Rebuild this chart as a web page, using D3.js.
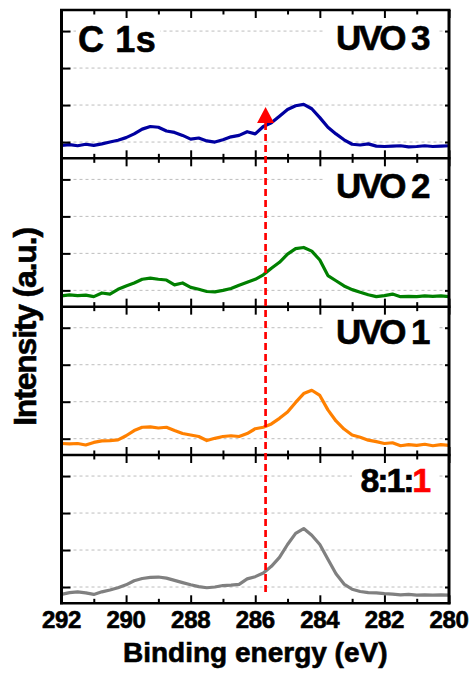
<!DOCTYPE html>
<html>
<head>
<meta charset="utf-8">
<script src="https://cdn.jsdelivr.net/npm/d3@7/dist/d3.min.js"></script>
<style>
    body { margin: 0; background: #fff; }
    svg { display: block; font-family: "Liberation Sans", Arial, sans-serif; font-weight: bold; }
    text { stroke-width: 0.6; paint-order: stroke; }
</style>
</head>
<body>
<div id="chart"></div>
<script>
// binding energy grid (eV), shared by all four spectra
const energy = [
    292, 291.75, 291.5, 291.25, 291, 290.75, 290.5, 290.25, 290, 289.75,
    289.5, 289.25, 289, 288.75, 288.5, 288.25, 288, 287.75, 287.5, 287.25,
    287, 286.75, 286.5, 286.25, 286, 285.75, 285.5, 285.25, 285, 284.75,
    284.5, 284.25, 284, 283.75, 283.5, 283.25, 283, 282.75, 282.5, 282.25,
    282, 281.75, 281.5, 281.25, 281, 280.75, 280.5, 280.25, 280
];

// intensities in grid units (0 = lowest dashed line of each panel)
const uvo3 = [
    -0.09, -0.07, -0.10, -0.06, -0.09, -0.05, 0.00, 0.05, 0.12, 0.22,
    0.35, 0.42, 0.40, 0.30, 0.26, 0.18, 0.08, 0.11, 0.03, 0.00,
    0.06, 0.14, 0.18, 0.28, 0.22, 0.42, 0.52, 0.70, 0.88, 0.98,
    1.02, 0.90, 0.66, 0.40, 0.22, 0.06, -0.06, -0.08, -0.05, -0.11,
    -0.12, -0.11, -0.10, -0.13, -0.12, -0.10, -0.12, -0.11, -0.10
];
const uvo2 = [
    -0.15, -0.12, -0.14, -0.13, -0.17, -0.07, -0.10, 0.03, 0.12, 0.20,
    0.30, 0.33, 0.30, 0.28, 0.15, 0.20, 0.08, 0.03, -0.03, -0.04,
    0.00, 0.05, 0.14, 0.22, 0.30, 0.42, 0.60, 0.76, 0.98, 1.13,
    1.16, 1.06, 0.82, 0.40, 0.26, 0.12, 0.02, -0.05, -0.12, -0.17,
    -0.14, -0.10, -0.17, -0.16, -0.17, -0.15, -0.16, -0.15, -0.17
];
const uvo1 = [
    -0.13, -0.14, -0.13, -0.17, -0.10, -0.06, -0.05, -0.03, 0.08, 0.22,
    0.31, 0.32, 0.29, 0.31, 0.22, 0.14, 0.10, 0.06, -0.05, 0.01,
    0.06, 0.08, 0.06, 0.14, 0.27, 0.31, 0.40, 0.55, 0.72, 0.98,
    1.22, 1.31, 1.17, 0.78, 0.48, 0.26, 0.10, 0.04, -0.04, -0.08,
    -0.13, -0.11, -0.19, -0.16, -0.18, -0.15, -0.19, -0.16, -0.18
];
const ref811 = [
    -0.20, -0.15, -0.13, -0.16, -0.20, -0.13, -0.08, -0.02, 0.06, 0.17,
    0.23, 0.26, 0.27, 0.24, 0.18, 0.12, 0.06, 0.01, -0.02, 0.00,
    0.04, 0.05, 0.07, 0.22, 0.28, 0.38, 0.56, 0.80, 1.15, 1.45,
    1.58, 1.40, 1.15, 0.75, 0.36, 0.08, -0.06, -0.12, -0.15, -0.16,
    -0.18, -0.19, -0.21, -0.20, -0.22, -0.21, -0.22, -0.21, -0.22
];

const panelSeries = [uvo3, uvo2, uvo1, ref811];
const panelColors = ['#0000a0', '#008000', '#ff8000', '#808080'];
const xTicks = [292, 290, 288, 286, 284, 282, 280];
const xMinorTicks = [291, 289, 287, 285, 283, 281];
const gridLevels = [0, 1, 2, 3];
const markerEnergy = 285.68;

const width = 472;
const height = 673;
const plotLeft = 61.5;
const plotRight = 449;
const plotTop = 10;
const plotBottom = 603.3;
const panelH = (plotBottom - plotTop) / 4;

const svg = d3.select('#chart').append('svg')
.attr('width', width)
.attr('height', height);

const x = d3.scaleLinear().domain([292, 280]).range([plotLeft, plotRight]);

panelSeries.forEach((series, i) => {
    const pTop = plotTop + i * panelH;
    const pBot = pTop + panelH;
    const y = d3.scaleLinear().domain([-0.44, 3.57]).range([pBot, pTop]);
    const g = svg.append('g');

    g.selectAll('line.grid')
    .data(gridLevels)
    .enter()
    .append('line')
    .attr('x1', plotLeft)
    .attr('x2', plotRight)
    .attr('y1', (d) => y(d))
    .attr('y2', (d) => y(d))
    .attr('stroke', '#bdbdbd')
    .attr('stroke-width', 1)
    .attr('stroke-dasharray', '3,3');

    // white box behind the panel labels hides the top grid line
    const boxX = i === 3 ? 352 : 324;
    g.append('rect')
    .attr('x', boxX)
    .attr('y', pTop + 6)
    .attr('width', 439 - boxX)
    .attr('height', 38)
    .attr('fill', '#fff');

    const line = d3.line()
    .x((d, k) => x(energy[k]))
    .y((d) => y(d));

    g.append('path')
    .datum(series)
    .attr('fill', 'none')
    .attr('stroke', panelColors[i])
    .attr('stroke-width', 3.2)
    .attr('stroke-linejoin', 'round')
    .attr('d', line);

    // inward ticks, bottom and top of each panel
    g.append('g').attr('transform', `translate(0,${pBot})`)
    .call(d3.axisBottom(x).tickValues(xTicks).tickSize(-8).tickFormat(''))
    .call((a) => a.select('.domain').remove());
    g.append('g').attr('transform', `translate(0,${pBot})`)
    .call(d3.axisBottom(x).tickValues(xMinorTicks).tickSize(-4.5).tickFormat(''))
    .call((a) => a.select('.domain').remove());
    g.append('g').attr('transform', `translate(0,${pTop})`)
    .call(d3.axisTop(x).tickValues(xTicks).tickSize(-8).tickFormat(''))
    .call((a) => a.select('.domain').remove());
    g.append('g').attr('transform', `translate(0,${pTop})`)
    .call(d3.axisTop(x).tickValues(xMinorTicks).tickSize(-4.5).tickFormat(''))
    .call((a) => a.select('.domain').remove());

    g.append('g').attr('transform', `translate(${plotLeft},0)`)
    .call(d3.axisLeft(y).tickValues(gridLevels).tickSize(-9).tickFormat(''))
    .call((a) => a.select('.domain').remove());
    g.append('g').attr('transform', `translate(${plotRight},0)`)
    .call(d3.axisRight(y).tickValues(gridLevels).tickSize(-4).tickFormat(''))
    .call((a) => a.select('.domain').remove());

    g.selectAll('.tick line').attr('stroke', '#000').attr('stroke-width', 2);

    g.append('line')
    .attr('x1', plotLeft - 1.5)
    .attr('x2', plotRight + 1.5)
    .attr('y1', pBot)
    .attr('y2', pBot)
    .attr('stroke', '#000')
    .attr('stroke-width', 2.5);
});

// frame
svg.append('line').attr('x1', plotLeft - 1.5).attr('x2', plotRight + 1.5).attr('y1', plotTop).attr('y2', plotTop)
.attr('stroke', '#000').attr('stroke-width', 2.5);
svg.append('line').attr('x1', plotLeft).attr('x2', plotLeft).attr('y1', plotTop).attr('y2', plotBottom + 1)
.attr('stroke', '#000').attr('stroke-width', 3);
svg.append('line').attr('x1', plotRight).attr('x2', plotRight).attr('y1', plotTop).attr('y2', plotBottom + 1)
.attr('stroke', '#000').attr('stroke-width', 3);

// panel labels
const labelY = [plotTop + 40, plotTop + panelH + 40, plotTop + 2 * panelH + 37.5, plotTop + 3 * panelH + 37];
['UVO 3', 'UVO 2', 'UVO 1'].forEach((t, i) => {
    svg.append('text')
    .attr('x', 428)
    .attr('y', labelY[i])
    .attr('text-anchor', 'end')
    .attr('font-size', 35)
    .attr('letter-spacing', -2.6)
    .attr('fill', '#000')
    .attr('stroke', '#000')
    .text(t);
});
const ratio = svg.append('text')
.attr('x', 429)
.attr('y', labelY[3])
.attr('text-anchor', 'end')
.attr('font-size', 34)
.attr('letter-spacing', -2.2)
.attr('fill', '#000')
.attr('stroke', '#000');
ratio.append('tspan').text('8:1:');
ratio.append('tspan').attr('fill', '#ff0000').attr('stroke', '#ff0000').text('1');

svg.append('rect').attr('x', 76).attr('y', 20).attr('width', 84).attr('height', 38).attr('fill', '#fff');
svg.append('text')
.attr('x', 78)
.attr('y', 52)
.attr('font-size', 36)
.attr('letter-spacing', 0.6)
.attr('fill', '#000')
.attr('stroke', '#000')
.text('C 1s');

// marker at the shoulder
const mx = x(markerEnergy);
svg.append('line')
.attr('x1', mx)
.attr('x2', mx)
.attr('y1', 123)
.attr('y2', 592)
.attr('stroke', '#ff0000')
.attr('stroke-width', 2.7)
.attr('stroke-dasharray', '7,4');
svg.append('path')
.attr('d', `M${mx},107 L${mx + 8.5},123 L${mx - 8.5},123 Z`)
.attr('fill', '#ff0000');

// x tick labels
svg.selectAll('text.xlab')
.data(xTicks)
.enter()
.append('text')
.attr('x', (d) => x(d))
.attr('y', 628)
.attr('text-anchor', 'middle')
.attr('font-size', 24)
.attr('letter-spacing', -0.3)
.attr('fill', '#000')
.attr('stroke', '#000')
.text((d) => d);

svg.append('text')
.attr('x', (plotLeft + plotRight) / 2)
.attr('y', 662)
.attr('text-anchor', 'middle')
.attr('font-size', 28)
.attr('letter-spacing', 0)
.attr('fill', '#000')
.attr('stroke', '#000')
.text('Binding energy (eV)');

svg.append('text')
.attr('transform', 'translate(36,327) rotate(-90)')
.attr('text-anchor', 'middle')
.attr('font-size', 32)
.attr('letter-spacing', -1.2)
.attr('fill', '#000')
.attr('stroke', '#000')
.text('Intensity (a.u.)');
</script>
</body>
</html>
